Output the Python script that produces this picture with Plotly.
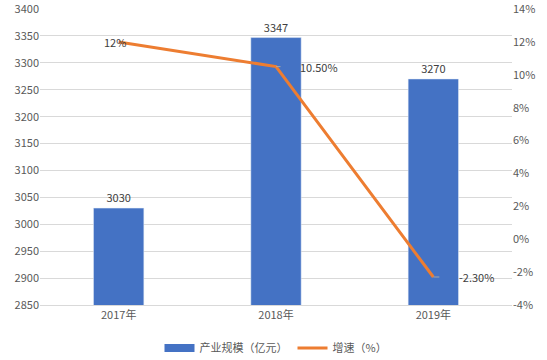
import plotly.graph_objects as go

categories = ["2017年", "2018年", "2019年"]
scale = [3030, 3347, 3270]
growth = [12, 10.5, -2.3]
growth_labels = ["12%", "10.50%", "-2.30%"]

FONT = "Noto Sans CJK SC, Microsoft YaHei, sans-serif"
fig = go.Figure()
fig.add_trace(go.Bar(
    x=categories, y=scale, name="产业规模（亿元）", showlegend=False,
    marker_color="#4472C4", width=0.32,
    text=[str(v) for v in scale], textposition="outside",
    textfont=dict(size=11, color="#404040"), cliponaxis=False,
))
fig.add_trace(go.Scatter(
    x=[None], y=[None], name="产业规模（亿元）", mode="lines",
    line=dict(color="#4472C4", width=8),
))
fig.add_trace(go.Scatter(
    x=categories, y=growth, name="增速（%）", yaxis="y2",
    mode="lines", line=dict(color="#ED7D31", width=3),
))

offsets = [-20, 43, 43]
for c, g, lab, ax in zip(categories, growth, growth_labels, offsets):
    fig.add_annotation(
        x=c, y=g, yref="y2", text=lab, showarrow=(ax > 0),
        ax=ax, ay=0, arrowhead=0, arrowwidth=1, arrowcolor="#A6A6A6",
        standoff=0, startstandoff=18,
        font=dict(size=11, color="#404040"),
        xshift=0 if ax > 0 else -4,
    )

fig.update_layout(
    width=547, height=360,
    margin=dict(l=40, r=35, t=9, b=55),
    paper_bgcolor="white", plot_bgcolor="white",
    font=dict(family=FONT, size=11, color="#595959"),
    xaxis=dict(showline=True, linecolor="#D9D9D9", ticks="", showgrid=False,
               automargin=False),
    yaxis=dict(range=[2849.9, 3400.1], tickvals=list(range(2850, 3401, 50)),
               showgrid=True, gridcolor="#D9D9D9", ticklabeloverflow="allow",
               zeroline=False, showline=False, ticks="", automargin=False),
    yaxis2=dict(range=[-4.003, 14.003], tickvals=list(range(-4, 15, 2)),
                ticktext=[f"{v}%" for v in range(-4, 15, 2)],
                overlaying="y", side="right", ticklabeloverflow="allow",
                showgrid=False, zeroline=False, ticks="", automargin=False),
    legend=dict(orientation="h", x=0.5, xanchor="center",
                yref="container", y=0.033, yanchor="middle",
                font=dict(size=11, color="#595959")),
)
fig.write_html("out.html", post_script="document.body.style.margin='0';",
               config={"displayModeBar": False})
